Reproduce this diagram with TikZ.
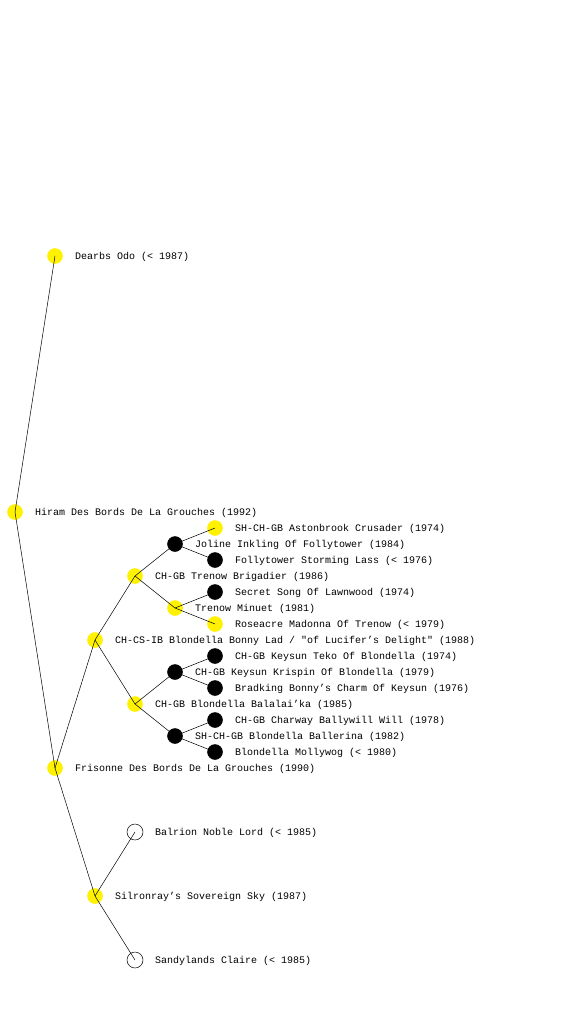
\documentclass[tikz,border=0pt]{standalone}
\usepackage{fontspec}
\newfontfamily\pedfont{Liberation Mono}
\begin{document}
\begin{tikzpicture}[x=1pt,y=-1pt,
  dot/.style={circle,draw=black,line width=0.5pt,minimum size=15pt,inner sep=0pt},
  yel/.style={dot,fill=yellow,draw=yellow},
  blk/.style={dot,fill=black},
  opn/.style={dot,fill=white,minimum size=16pt},
  txt/.style={anchor=west,inner sep=0pt,yshift=-0.5pt,font=\pedfont\fontsize{10}{12}\selectfont},
  link/.style={draw=black,line width=0.5pt}]
\useasboundingbox[fill=white] (0,0) rectangle (560,1024);
% generation 0
\node[yel] (hiram) at (15,512) {};
% generation 1
\node[yel] (dearbs) at (55,256) {};
\node[yel] (fris) at (55,768) {};
% generation 2
\node[yel] (bonny) at (95,640) {};
\node[yel] (silr) at (95,896) {};
% generation 3
\node[yel] (brig) at (135,576) {};
\node[yel] (bala) at (135,704) {};
\node[opn] (balr) at (135,832) {};
\node[opn] (sandy) at (135,960) {};
% generation 4
\node[blk] (joline) at (175,544) {};
\node[yel] (minuet) at (175,608) {};
\node[blk] (krispin) at (175,672) {};
\node[blk] (ballerina) at (175,736) {};
% generation 5
\node[yel] (aston) at (215,528) {};
\node[blk] (storm) at (215,560) {};
\node[blk] (secret) at (215,592) {};
\node[yel] (rose) at (215,624) {};
\node[blk] (teko) at (215,656) {};
\node[blk] (brad) at (215,688) {};
\node[blk] (charway) at (215,720) {};
\node[blk] (molly) at (215,752) {};
% connectors
\draw[link] (hiram.center) -- (dearbs.center);
\draw[link] (hiram.center) -- (fris.center);
\draw[link] (fris.center) -- (bonny.center);
\draw[link] (fris.center) -- (silr.center);
\draw[link] (bonny.center) -- (brig.center);
\draw[link] (bonny.center) -- (bala.center);
\draw[link] (silr.center) -- (balr.center);
\draw[link] (silr.center) -- (sandy.center);
\draw[link] (brig.center) -- (joline.center);
\draw[link] (brig.center) -- (minuet.center);
\draw[link] (bala.center) -- (krispin.center);
\draw[link] (bala.center) -- (ballerina.center);
\draw[link] (joline.center) -- (aston.center);
\draw[link] (joline.center) -- (storm.center);
\draw[link] (minuet.center) -- (secret.center);
\draw[link] (minuet.center) -- (rose.center);
\draw[link] (krispin.center) -- (teko.center);
\draw[link] (krispin.center) -- (brad.center);
\draw[link] (ballerina.center) -- (charway.center);
\draw[link] (ballerina.center) -- (molly.center);
% labels
\node[txt] (thiram) at (35,512) {Hiram Des Bords De La Grouches (1992)};
\node[txt] (tdearbs) at (75,256) {Dearbs Odo (< 1987)};
\node[txt] (tfris) at (75,768) {Frisonne Des Bords De La Grouches (1990)};
\node[txt] (tbonny) at (115,640) {CH-CS-IB Blondella Bonny Lad / "of Lucifer’s Delight" (1988)};
\node[txt] (tsilr) at (115,896) {Silronray’s Sovereign Sky (1987)};
\node[txt] (tbrig) at (155,576) {CH-GB Trenow Brigadier (1986)};
\node[txt] (tbala) at (155,704) {CH-GB Blondella Balalai’ka (1985)};
\node[txt] (tbalr) at (155,832) {Balrion Noble Lord (< 1985)};
\node[txt] (tsandy) at (155,960) {Sandylands Claire (< 1985)};
\node[txt] (tjoline) at (195,544) {Joline Inkling Of Follytower (1984)};
\node[txt] (tminuet) at (195,608) {Trenow Minuet (1981)};
\node[txt] (tkrispin) at (195,672) {CH-GB Keysun Krispin Of Blondella (1979)};
\node[txt] (tballerina) at (195,736) {SH-CH-GB Blondella Ballerina (1982)};
\node[txt] (taston) at (235,528) {SH-CH-GB Astonbrook Crusader (1974)};
\node[txt] (tstorm) at (235,560) {Follytower Storming Lass (< 1976)};
\node[txt] (tsecret) at (235,592) {Secret Song Of Lawnwood (1974)};
\node[txt] (trose) at (235,624) {Roseacre Madonna Of Trenow (< 1979)};
\node[txt] (tteko) at (235,656) {CH-GB Keysun Teko Of Blondella (1974)};
\node[txt] (tbrad) at (235,688) {Bradking Bonny’s Charm Of Keysun (1976)};
\node[txt] (tcharway) at (235,720) {CH-GB Charway Ballywill Will (1978)};
\node[txt] (tmolly) at (235,752) {Blondella Mollywog (< 1980)};
\end{tikzpicture}
\end{document}
